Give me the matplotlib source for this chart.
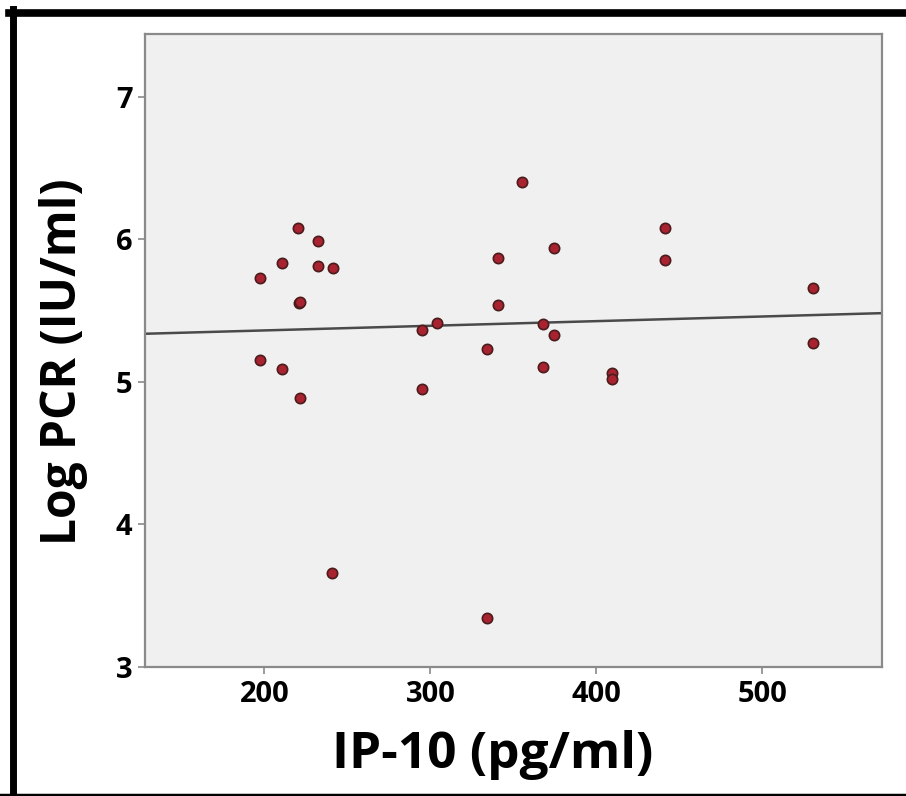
import matplotlib
matplotlib.use('Agg')
import matplotlib.pyplot as plt
import numpy as np
from matplotlib.lines import Line2D

# IP-10 (pg/ml) vs Log PCR (IU/ml)
ip10 = [220.3, 232.3, 210.7, 232.3, 241.2, 197.4, 220.6, 221.2, 294.8, 197.4,
        210.7, 221.5, 294.8, 355.1, 374.5, 340.8, 340.8, 304.2, 368.1, 374.5,
        334.0, 368.1, 441.0, 441.0, 530.4, 530.4, 409.3, 409.3, 241.0, 334.0]
log_pcr = [6.078, 5.987, 5.832, 5.816, 5.799, 5.727, 5.550, 5.558, 5.363, 5.153,
           5.092, 4.885, 4.950, 6.399, 5.942, 5.872, 5.539, 5.410, 5.403, 5.326,
           5.233, 5.103, 6.078, 5.858, 5.658, 5.270, 5.064, 5.017, 3.658, 3.342]

x_ticks = [200, 300, 400, 500]
y_ticks = [3, 4, 5, 6, 7]

W, H = 906, 796
fig = plt.figure(figsize=(W / 100, H / 100), dpi=100)
fig.patch.set_facecolor('white')

ax = fig.add_axes([145 / W, 1 - 667 / H, (882 - 145) / W, (667 - 34) / H])
ax.set_facecolor('#f0f0f0')

ax.set_xlim(128.1, 572)
ax.set_ylim(3, 7.44)

# regression line
coef = np.polyfit(ip10, log_pcr, 1)
xs = np.array(ax.get_xlim())
ax.plot(xs, np.polyval(coef, xs), color='#4a4a4a', lw=1.8, zorder=2)

ax.scatter(ip10, log_pcr, s=55, c='#a8232f', edgecolors='#4a1c1c',
           linewidths=1.2, zorder=3)

for sp in ax.spines.values():
    sp.set_color('#8a8a8a')
    sp.set_linewidth(1.6)

ax.set_xticks(x_ticks)
ax.set_yticks(y_ticks)
ax.tick_params(axis='both', direction='out', length=5, width=1.2, color='#8a8a8a',
               labelsize=21, pad=4)
for lab in ax.get_xticklabels() + ax.get_yticklabels():
    lab.set_fontfamily('Open Sans')
    lab.set_fontweight('bold')

ax.set_xlabel('IP-10 (pg/ml)', fontsize=37, fontweight='bold', family='Open Sans')
ax.set_ylabel('Log PCR (IU/ml)', fontsize=34.5, fontweight='bold', family='Open Sans')
ax.xaxis.set_label_coords(0.472, -0.100)
ax.yaxis.set_label_coords(-0.077, 0.482)

# thick black frame around the figure (cropped on right/bottom)
fig.add_artist(Line2D([12.5 / W, 12.5 / W], [0, 1 - 9 / H], transform=fig.transFigure,
                      color='black', lw=5))
fig.add_artist(Line2D([9 / W, 1], [1 - 12.5 / H, 1 - 12.5 / H], transform=fig.transFigure,
                      color='black', lw=5.5))
fig.add_artist(Line2D([0, 1], [1.5 / H, 1.5 / H], transform=fig.transFigure,
                      color='black', lw=2.5))

fig.savefig('out.png', dpi=100)
